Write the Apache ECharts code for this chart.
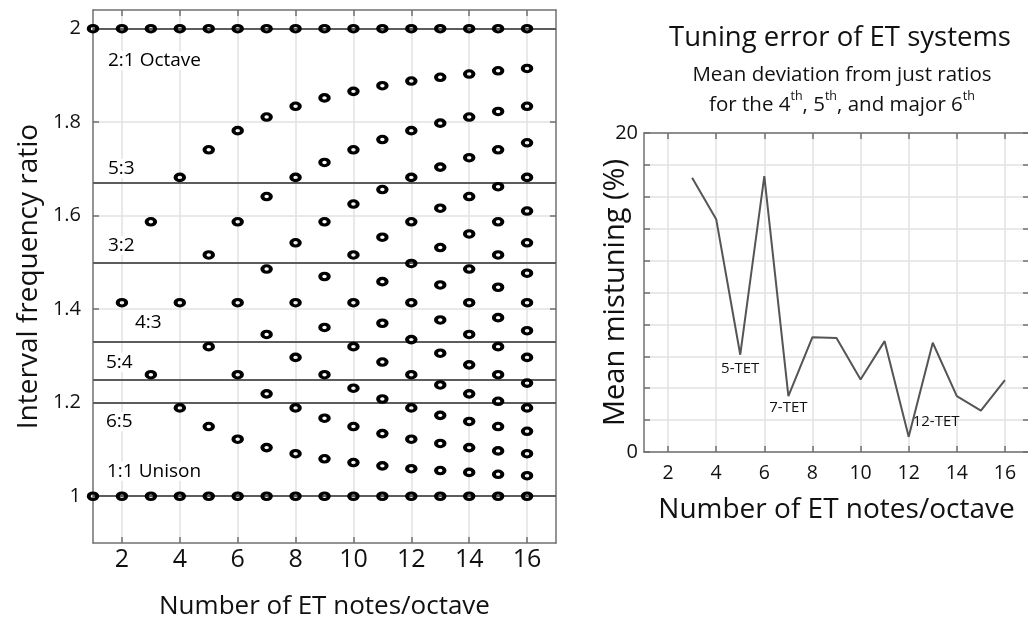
<!DOCTYPE html>
<html><head><meta charset="utf-8">
<script src="https://cdn.jsdelivr.net/npm/echarts@6/dist/echarts.min.js"></script>
<style>html,body{margin:0;padding:0;background:#fff}#c{width:1028px;height:623px}</style>
</head><body><div id="c"></div>
<script>
// Left panel: equal-tempered interval ratios per number of notes/octave
const n1 = [1, 2];
const n2 = [1, 1.414, 2];
const n3 = [1, 1.260, 1.587, 2];
const n4 = [1, 1.189, 1.414, 1.682, 2];
const n5 = [1, 1.149, 1.320, 1.516, 1.741, 2];
const n6 = [1, 1.122, 1.260, 1.414, 1.587, 1.782, 2];
const n7 = [1, 1.104, 1.219, 1.346, 1.486, 1.641, 1.811, 2];
const n8 = [1, 1.091, 1.189, 1.297, 1.414, 1.542, 1.682, 1.834, 2];
const n9 = [1, 1.080, 1.167, 1.260, 1.361, 1.470, 1.587, 1.714, 1.852, 2];
const n10 = [1, 1.072, 1.149, 1.231, 1.320, 1.414, 1.516, 1.625, 1.741, 1.866, 2];
const n11 = [1, 1.065, 1.134, 1.208, 1.287, 1.370, 1.459, 1.554, 1.656, 1.763, 1.878, 2];
const n12 = [1, 1.059, 1.122, 1.189, 1.260, 1.335, 1.414, 1.498, 1.587, 1.682, 1.782, 1.888, 2];
const n13 = [1, 1.055, 1.113, 1.173, 1.238, 1.306, 1.377, 1.452, 1.532, 1.616, 1.704, 1.798, 1.896, 2];
const n14 = [1, 1.051, 1.104, 1.160, 1.219, 1.281, 1.346, 1.414, 1.486, 1.561, 1.641, 1.724, 1.811, 1.903, 2];
const n15 = [1, 1.047, 1.097, 1.149, 1.203, 1.260, 1.320, 1.382, 1.447, 1.516, 1.587, 1.662, 1.741, 1.823, 1.910, 2];
const n16 = [1, 1.044, 1.091, 1.139, 1.189, 1.242, 1.297, 1.354, 1.414, 1.477, 1.542, 1.610, 1.682, 1.756, 1.834, 1.915, 2];
const etSets = [n1, n2, n3, n4, n5, n6, n7, n8, n9, n10, n11, n12, n13, n14, n15, n16];

const justRatios = [2, 1.6667, 1.5, 1.3333, 1.25, 1.2, 1];
const justNames = ['2:1 Octave', '5:3', '3:2', '4:3', '5:4', '6:5', '1:1 Unison'];
const xTickValues = [2, 4, 6, 8, 10, 12, 14, 16];
const leftYTicks = [1, 1.2, 1.4, 1.6, 1.8, 2];

// Right panel: mean mistuning (%)
const etCounts = [3, 4, 5, 6, 7, 8, 9, 10, 11, 12, 13, 14, 15, 16];
const mistuning = [17.2, 14.6, 6.1, 17.3, 3.5, 7.2, 7.15, 4.55, 6.95, 0.95, 6.85, 3.5, 2.6, 4.5];
const tetNotes = {5: '5-TET', 7: '7-TET', 12: '12-TET'};

const FONT = '"Open Sans", "Noto Sans", sans-serif';
const AX = '#707070';
const GRID = '#e2e2e2';

// per-label placement styles (pixels)
const labelOffsets = [[13, 32], [13, -16], [13, -17], [40, -18], [11, -17], [11, 19], [12, -25]];

const etData = [];
etSets.forEach((arr, i) => arr.forEach(v => etData.push([i + 1, v])));

const chart = echarts.init(document.getElementById('c'), null, {renderer: 'canvas'});

function boxAxisX(gridIndex, pos, showLabel, labelSize, labelMargin) {
  return {
    type: 'value', gridIndex, position: pos, min: 1, max: 17,
    axisLine: {show: true, onZero: false, lineStyle: {color: AX, width: 1.5}},
    axisTick: {show: true, inside: true, length: 6, customValues: xTickValues, lineStyle: {color: AX, width: 1.5}},
    axisLabel: {show: showLabel, customValues: xTickValues, fontSize: labelSize, color: '#111', margin: labelMargin, fontFamily: FONT},
    splitLine: {show: pos === 'bottom', lineStyle: {color: GRID, width: 1.5}}
  };
}

const option = {
  animation: false,
  backgroundColor: '#fff',
  textStyle: {fontFamily: FONT},
  title: [
    {text: 'Tuning error of ET systems', left: 835, top: 19, textAlign: 'center',
     textStyle: {fontSize: 27.5, fontWeight: 'normal', color: '#111', fontFamily: FONT}},
    {text: 'Mean deviation from just ratios\nfor the 4{s|th}, 5{s|th}, and major 6{s|th}', left: 837, top: 55, textAlign: 'center',
     textStyle: {fontSize: 20.5, fontWeight: 'normal', color: '#111', lineHeight: 30, fontFamily: FONT,
       rich: {s: {fontSize: 12.5, verticalAlign: 'top', color: '#111', lineHeight: 30, fontFamily: FONT, padding: [0, 0, 10, 0]}}}}
  ],
  grid: [
    {left: 93, top: 10, width: 463, height: 533, outerBoundsMode: 'none', containLabel: false},
    {left: 644, top: 133, width: 385, height: 319, outerBoundsMode: 'none', containLabel: false}
  ],
  xAxis: [
    Object.assign(boxAxisX(0, 'bottom', true, 25, 4), {
      name: 'Number of ET notes/octave', nameLocation: 'middle', nameGap: 51,
      nameTextStyle: {fontSize: 26, color: '#111', fontFamily: FONT}}),
    boxAxisX(0, 'top', false, 12, 4),
    Object.assign(boxAxisX(1, 'bottom', true, 19.5, 11), {
      name: 'Number of ET notes/octave', nameLocation: 'middle', nameGap: 44,
      nameTextStyle: {fontSize: 28, color: '#111', fontFamily: FONT}}),
    boxAxisX(1, 'top', false, 12, 4)
  ],
  yAxis: [
    {type: 'value', gridIndex: 0, position: 'left', min: 0.9, max: 2.04,
     name: 'Interval frequency ratio', nameLocation: 'middle', nameGap: 50, nameRotate: 90,
     nameTextStyle: {fontSize: 28, color: '#111', fontFamily: FONT},
     axisLine: {show: true, onZero: false, lineStyle: {color: AX, width: 1.5}},
     axisTick: {show: true, inside: true, length: 6, customValues: leftYTicks, lineStyle: {color: AX, width: 1.5}},
     axisLabel: {customValues: leftYTicks, fontSize: 20, color: '#111', margin: 12, fontFamily: FONT},
     splitLine: {show: true, lineStyle: {color: GRID, width: 1.5}}},
    {type: 'value', gridIndex: 0, position: 'right', min: 0.9, max: 2.04,
     axisLine: {show: true, onZero: false, lineStyle: {color: AX, width: 1.5}},
     axisTick: {show: true, inside: true, length: 6, customValues: leftYTicks, lineStyle: {color: AX, width: 1.5}},
     axisLabel: {show: false}, splitLine: {show: false}},
    {type: 'value', gridIndex: 1, position: 'left', min: 0, max: 20, interval: 2,
     name: 'Mean mistuning (%)', nameLocation: 'middle', nameGap: 14, nameRotate: 90, nameMoveOverlap: false,
     nameTextStyle: {fontSize: 29, color: '#111', fontFamily: FONT},
     axisLine: {show: true, onZero: false, lineStyle: {color: AX, width: 1.5}},
     axisTick: {show: true, inside: true, length: 6, lineStyle: {color: AX, width: 1.5}},
     axisLabel: {fontSize: 20, color: '#111', margin: 6, fontFamily: FONT,
       formatter: v => (v === 0 || v === 20) ? String(v) : ''},
     splitLine: {show: true, lineStyle: {color: GRID, width: 1.5}}},
    {type: 'value', gridIndex: 1, position: 'right', min: 0, max: 20, interval: 2,
     axisLine: {show: true, onZero: false, lineStyle: {color: AX, width: 1.5}},
     axisTick: {show: true, inside: true, length: 6, lineStyle: {color: AX, width: 1.5}},
     axisLabel: {show: false}, splitLine: {show: false}}
  ],
  series: [
    {type: 'scatter', xAxisIndex: 0, yAxisIndex: 0, data: [], z: 2, silent: true,
     markLine: {silent: true, symbol: 'none', animation: false,
       lineStyle: {color: '#5c5c5c', width: 2, type: 'solid'}, label: {show: false},
       data: justRatios.map(r => ({yAxis: r}))}},
    {type: 'scatter', xAxisIndex: 0, yAxisIndex: 0, z: 3, silent: true, symbolSize: 0,
     itemStyle: {opacity: 1},
     data: justRatios.map((r, i) => ({
       value: [1, r],
       label: {show: true, formatter: justNames[i], position: 'right', distance: 0,
         offset: labelOffsets[i], fontSize: 19, color: '#000', fontFamily: FONT,
         backgroundColor: '#fff', padding: [0, 2]}
     }))},
    {type: 'scatter', xAxisIndex: 0, yAxisIndex: 0, z: 5, data: etData,
     symbol: 'circle', symbolSize: [8.5, 6.5],
     itemStyle: {color: 'rgba(255,255,255,0)', borderColor: '#000', borderWidth: 3.5, opacity: 1}},
    {type: 'line', xAxisIndex: 2, yAxisIndex: 2, z: 5,
     symbol: 'circle', symbolSize: 0, showSymbol: true,
     lineStyle: {color: '#555', width: 2},
     itemStyle: {color: '#555'},
     data: etCounts.map((n, i) => {
       const item = {value: [n, mistuning[i]]};
       if (tetNotes[n]) {
         item.label = n === 12
           ? {show: true, formatter: tetNotes[n], position: 'right', distance: 4, offset: [0, -15], fontSize: 15, color: '#111', fontFamily: FONT}
           : {show: true, formatter: tetNotes[n], position: 'bottom', distance: n === 5 ? 7 : 4, fontSize: 15, color: '#111', fontFamily: FONT};
       }
       return item;
     })}
  ]
};
chart.setOption(option);
</script>
</body></html>
